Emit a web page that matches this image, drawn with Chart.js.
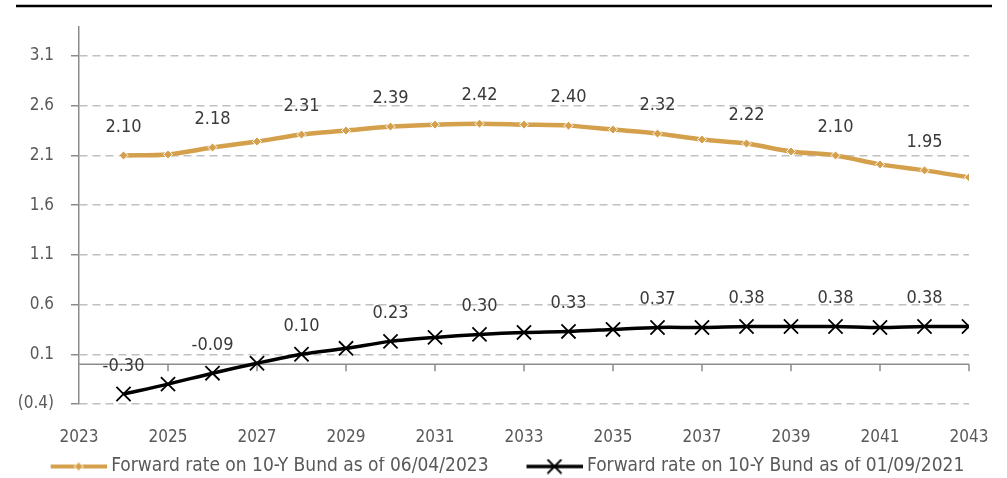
<!DOCTYPE html>
<html>
<head>
<meta charset="utf-8">
<script src="https://cdn.jsdelivr.net/npm/chart.js@4"></script>
<style>
  html, body { margin: 0; padding: 0; background: #fff; }
  #wrap { width: 1007px; height: 478px; position: relative; }
</style>
</head>
<body>
<div id="wrap"><canvas id="fwdChart" width="1007" height="478"></canvas></div>
<script>
// data
const years = [2024, 2025, 2026, 2027, 2028, 2029, 2030, 2031, 2032, 2033,
               2034, 2035, 2036, 2037, 2038, 2039, 2040, 2041, 2042, 2043];
const fwd2023 = [2.10, 2.11, 2.18, 2.24, 2.31, 2.35, 2.39, 2.41, 2.42, 2.41,
                 2.40, 2.36, 2.32, 2.26, 2.22, 2.14, 2.10, 2.01, 1.95, 1.88];
const fwd2021 = [-0.30, -0.20, -0.09, 0.01, 0.10, 0.16, 0.23, 0.27, 0.30, 0.32,
                 0.33, 0.35, 0.37, 0.37, 0.38, 0.38, 0.38, 0.37, 0.38, 0.38];
const yTicks = [-0.4, 0.1, 0.6, 1.1, 1.6, 2.1, 2.6, 3.1];
const xTicks = [2023, 2025, 2027, 2029, 2031, 2033, 2035, 2037, 2039, 2041, 2043];
const seriesNames = ['Forward rate on 10-Y Bund as of 06/04/2023', 'Forward rate on 10-Y Bund as of 01/09/2021'];

const GOLD = '#d4a04c';
const FONT = "'DejaVu Sans Condensed', 'Liberation Sans Narrow', sans-serif";

// legend icons: line + marker, like the Excel legend
// (blank strip on the left gives the gap between the two legend entries)
const GAP = 33;
const BOXW = GAP + 56;
function legendIcon(kind) {
    const c = document.createElement('canvas');
    c.width = BOXW + 10; c.height = 16;
    const g = c.getContext('2d');
    g.translate(GAP + 10, 0);
    if (kind === 'gold') {
        g.strokeStyle = GOLD; g.lineWidth = 4;
        g.beginPath(); g.moveTo(0, 8); g.lineTo(56, 8); g.stroke();
        g.fillStyle = GOLD; g.strokeStyle = '#fff'; g.lineWidth = 1;
        g.beginPath(); g.moveTo(28, 3.5); g.lineTo(32.5, 8); g.lineTo(28, 12.5); g.lineTo(23.5, 8); g.closePath();
        g.fill(); g.stroke();
    } else {
        g.strokeStyle = '#000'; g.lineWidth = 3.5;
        g.beginPath(); g.moveTo(0, 8); g.lineTo(56, 8); g.stroke();
        g.lineWidth = 1.8;
        g.beginPath(); g.moveTo(21, 1); g.lineTo(35, 15); g.moveTo(35, 1); g.lineTo(21, 15); g.stroke();
    }
    return c;
}
const icons = [legendIcon('gold'), legendIcon('black')];

// thick black rule on top of the figure
const topRule = {
    id: 'topRule',
    afterDraw(chart) {
        const ctx = chart.ctx;
        ctx.save();
        ctx.strokeStyle = '#000';
        ctx.lineWidth = 2.5;
        ctx.beginPath(); ctx.moveTo(16, 6); ctx.lineTo(992, 6); ctx.stroke();
        ctx.restore();
    }
};

// horizontal axis line crossing at 0, with its tick marks
const zeroAxis = {
    id: 'zeroAxis',
    beforeDatasetsDraw(chart) {
        const { ctx, scales: { x, y } } = chart;
        const y0 = y.getPixelForValue(0);
        ctx.save();
        ctx.strokeStyle = '#8c8c8c';
        ctx.lineWidth = 1.5;
        ctx.beginPath();
        ctx.moveTo(x.left, y0); ctx.lineTo(x.right, y0);
        xTicks.slice(1).forEach(v => {
            const px = x.getPixelForValue(v);
            ctx.moveTo(px, y0); ctx.lineTo(px, y0 + 7);
        });
        ctx.stroke();
        ctx.restore();
    }
};

// value labels on every other point
const valueLabels = {
    id: 'valueLabels',
    afterDatasetsDraw(chart) {
        const ctx = chart.ctx;
        ctx.save();
        ctx.font = '18px ' + FONT;
        ctx.fillStyle = '#3a3a3a';
        ctx.textAlign = 'center';
        ctx.textBaseline = 'middle';
        chart.data.datasets.forEach((ds, di) => {
            chart.getDatasetMeta(di).data.forEach((pt, i) => {
                if (i % 2 !== 0) return;
                ctx.fillText(ds.data[i].y.toFixed(2), pt.x, pt.y - 28);
            });
        });
        ctx.restore();
    }
};

Chart.defaults.font.family = FONT;
Chart.defaults.color = '#595959';

new Chart(document.getElementById('fwdChart'), {
    type: 'line',
    data: {
        datasets: [{
            label: seriesNames[0],
            data: years.map((yr, i) => ({ x: yr, y: fwd2023[i] })),
            borderColor: GOLD,
            borderWidth: 4.5,
            pointStyle: 'rectRot',
            pointRadius: 4.5,
            pointBackgroundColor: GOLD,
            pointBorderColor: '#fff',
            pointBorderWidth: 1,
            tension: 0.3
        }, {
            label: seriesNames[1],
            data: years.map((yr, i) => ({ x: yr, y: fwd2021[i] })),
            borderColor: '#000',
            borderWidth: 3.5,
            pointStyle: 'crossRot',
            pointRadius: 10,
            pointBorderColor: '#000',
            pointBorderWidth: 1.8,
            tension: 0.3
        }]
    },
    options: {
        responsive: false,
        animation: false,
        layout: { padding: { top: 23, right: 38, left: 8, bottom: -8 } },
        plugins: {
            tooltip: { enabled: false },
            legend: {
                position: 'bottom',
                labels: {
                    usePointStyle: true,
                    pointStyleWidth: BOXW,
                    padding: 0,
                    color: '#595959',
                    font: { size: 19 },
                    generateLabels(chart) {
                        const items = Chart.defaults.plugins.legend.labels.generateLabels(chart);
                        items.forEach((it, i) => { it.pointStyle = icons[i]; });
                        return items;
                    }
                }
            }
        },
        scales: {
            x: {
                type: 'linear',
                min: 2023,
                max: 2043,
                afterBuildTicks(scale) { scale.ticks = xTicks.map(v => ({ value: v })); },
                afterFit(scale) { scale.height = 53; scale.paddingRight = 0; },
                grid: { display: false },
                border: { display: false },
                ticks: {
                    padding: 15,
                    maxRotation: 0,
                    autoSkip: false,
                    font: { size: 17 },
                    callback: v => String(v)
                }
            },
            y: {
                min: -0.4,
                max: 3.39,
                afterBuildTicks(scale) { scale.ticks = yTicks.map(v => ({ value: v })); },
                afterFit(scale) { scale.width = 71; },
                grid: {
                    color: '#c0c0c0',
                    lineWidth: 1.5,
                    tickLength: 8,
                    tickColor: '#8c8c8c',
                    tickBorderDash: [],
                    tickWidth: 1.5
                },
                border: { display: true, color: '#8c8c8c', width: 1.5, dash: [8, 5] },
                ticks: {
                    padding: 17,
                    font: { size: 17 },
                    callback: v => v < 0 ? '(' + Math.abs(v).toFixed(1) + ')' : v.toFixed(1)
                }
            }
        }
    },
    plugins: [topRule, zeroAxis, valueLabels]
});
</script>
</body>
</html>
